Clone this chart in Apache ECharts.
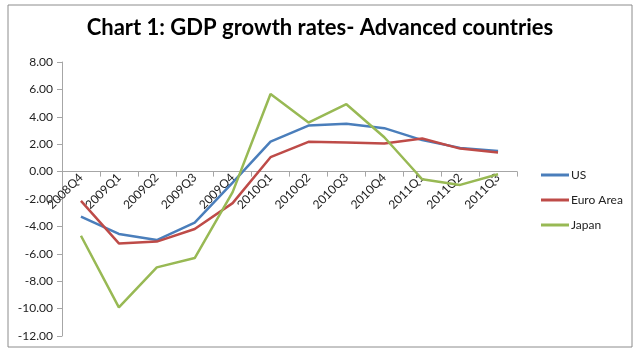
<!DOCTYPE html>
<html>
<head>
<meta charset="utf-8">
<script src="https://cdn.jsdelivr.net/npm/echarts@6/dist/echarts.min.js"></script>
<style>html,body{margin:0;padding:0;background:#fff;}#c{width:640px;height:356px;}</style>
</head>
<body>
<div id="c"></div>
<script>
const categories = ['2008Q4','2009Q1','2009Q2','2009Q3','2009Q4','2010Q1','2010Q2','2010Q3','2010Q4','2011Q1','2011Q2','2011Q3'];
const usValues = [-3.29, -4.55, -5.0, -3.73, -0.8, 2.19, 3.36, 3.5, 3.17, 2.3, 1.73, 1.51];
const euroValues = [-2.14, -5.24, -5.11, -4.19, -2.3, 1.05, 2.17, 2.12, 2.05, 2.41, 1.68, 1.39];
const japanValues = [-4.68, -9.91, -6.99, -6.31, -1.5, 5.66, 3.58, 4.92, 2.51, -0.56, -0.97, -0.19];
const yTicks = {min: -12, max: 8, interval: 2};
const titleText = 'Chart 1: GDP growth rates- Advanced countries';

const FONT = 'Lato, "Open Sans", sans-serif';
const GRID = {left: 62, right: 123, top: 62, bottom: 20};
const H = 356;
const gridH = H - GRID.top - GRID.bottom;
const zeroOffset = -gridH * (0 - yTicks.min) / (yTicks.max - yTicks.min);

const chart = echarts.init(document.getElementById('c'), null, {renderer: 'canvas'});
function mk(name, data, color) {
  return {name, type: 'line', data, symbol: 'none', smooth: false,
    lineStyle: {color, width: 2.5}, itemStyle: {color}};
}
chart.setOption({
  animation: false,
  backgroundColor: '#fff',
  graphic: [{type: 'rect', shape: {x: 8, y: 5, width: 624, height: 342},
    style: {fill: 'none', stroke: '#8c8c8c', lineWidth: 1}, silent: true}],
  title: {text: titleText, left: 'center', top: 12,
    textStyle: {fontFamily: FONT, fontWeight: 'bold', fontSize: 22, color: '#000'}},
  legend: {orient: 'vertical', left: 536, top: 164, itemGap: 13, itemWidth: 28, itemHeight: 3,
    icon: 'rect',
    textStyle: {fontFamily: FONT, fontSize: 12, color: '#222', padding: [0, 0, 0, -3]},
    data: ['US', 'Euro Area', 'Japan']},
  grid: Object.assign({containLabel: false, outerBoundsMode: 'none'}, GRID),
  xAxis: {type: 'category', data: categories, boundaryGap: true, position: 'bottom',
    offset: zeroOffset,
    axisLine: {onZero: false, lineStyle: {color: '#a6a6a6', width: 1}},
    axisTick: {show: true, alignWithLabel: false, length: 5, lineStyle: {color: '#a6a6a6'}},
    axisLabel: {rotate: 45, interval: 0, fontFamily: FONT, fontSize: 12, color: '#222', margin: 4}},
  yAxis: {type: 'value', min: yTicks.min, max: yTicks.max, interval: yTicks.interval,
    axisLine: {show: true, lineStyle: {color: '#a6a6a6', width: 1}},
    axisTick: {show: true, length: 5, lineStyle: {color: '#a6a6a6'}},
    splitLine: {show: false},
    axisLabel: {formatter: v => v.toFixed(2), fontFamily: FONT, fontSize: 12, color: '#222', margin: 9}},
  series: [
    mk('US', usValues, '#4a7ebb'),
    mk('Euro Area', euroValues, '#be4b48'),
    mk('Japan', japanValues, '#98b954')
  ]
});
</script>
</body>
</html>
